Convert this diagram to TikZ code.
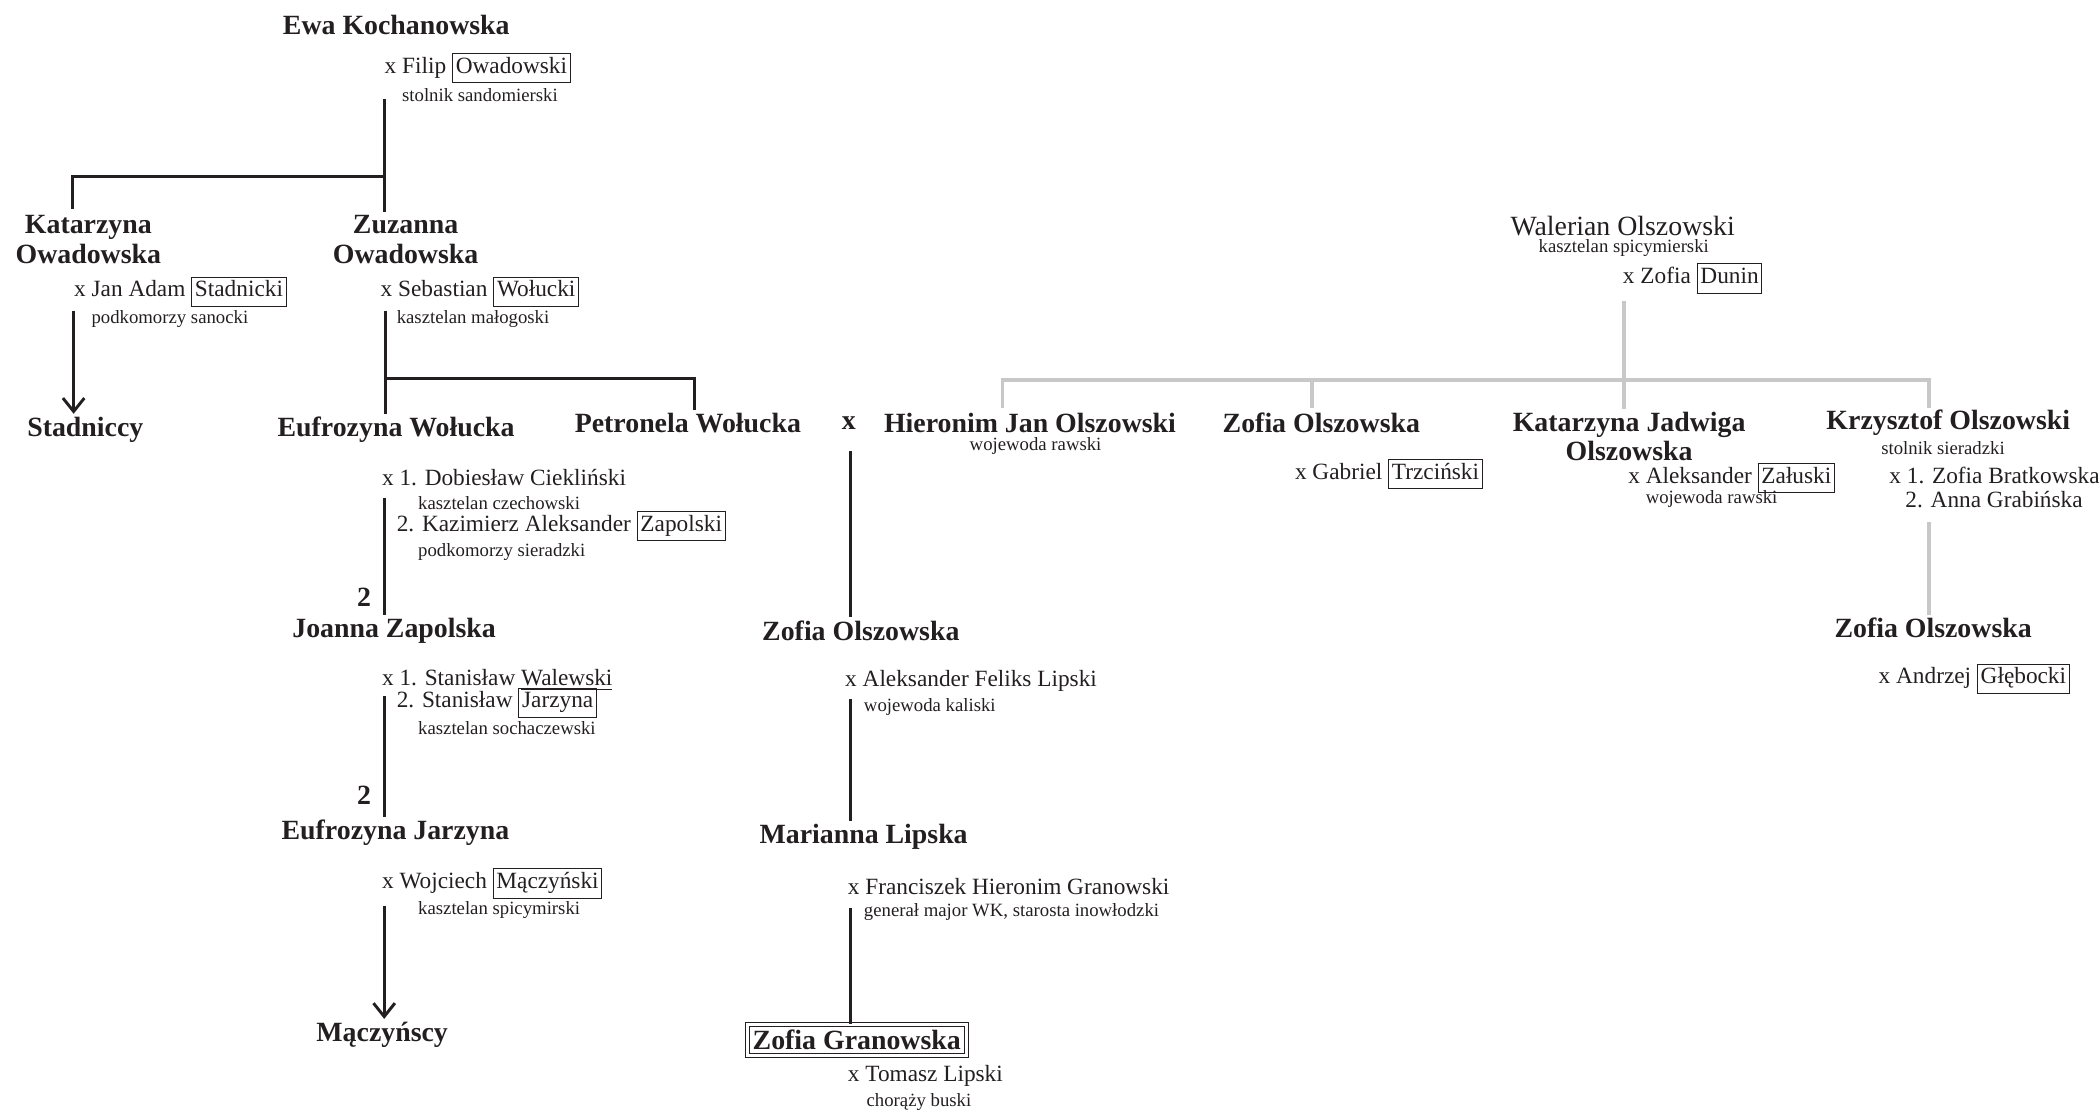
\documentclass[tikz,border=0pt]{standalone}
\usepackage{fontspec}
\setmainfont{Liberation Serif}
\usetikzlibrary{arrows.meta}

\definecolor{ink}{RGB}{35,31,32}
\definecolor{linegray}{RGB}{200,200,200}

% framed surname
\newcommand{\sur}[1]{{\fboxsep=1pt\fboxrule=0.4pt\fbox{#1\rule[-.27em]{0pt}{.98em}}}}

\begin{document}
\begin{tikzpicture}[x=0.5pt,y=-0.5pt,
	person/.style={anchor=west,inner sep=1pt,text=ink,font=\fontsize{10.4}{11}\selectfont\bfseries},
	spouse/.style={anchor=west,inner sep=1pt,text=ink,font=\fontsize{8.7}{9}\selectfont},
	office/.style={anchor=west,inner sep=1pt,text=ink,font=\fontsize{7}{8}\selectfont},
	tree/.style={draw=ink,line width=1.1pt},
	greytree/.style={draw=linegray,line width=1.3pt},
	descend/.style={tree,-{Straight Barb[length=5pt,width=8pt]}}]
	
	\useasboundingbox (0,0) rectangle (1568,831);
	
	% ======================================================
	% Kochanowska / Owadowski line (left)
	% ======================================================
	\node[person] (ewa) at (209,19) {Ewa Kochanowska};
	\node[spouse] (filip) at (285,51) {x Filip \sur{Owadowski}};
	\node[office] (filipT) at (298,71) {stolnik sandomierski};
	
	\node[person,anchor=center,align=center] (katarzyna) at (66,179) {Katarzyna\\Owadowska};
	\node[person,anchor=center,align=center] (zuzanna) at (303,179) {Zuzanna\\Owadowska};
	
	\coordinate (ewaTop) at (287,74);
	\coordinate (ewaFork) at (287,132);
	\coordinate (katTop) at (54,156);
	\draw[tree] (ewaTop) -- (ewaTop |- zuzanna.north);
	\draw[tree] (ewaFork) -| (katTop);
	
	% Stadniccy
	\node[spouse] (stadnicki) at (53,218) {x Jan Adam \sur{Stadnicki}};
	\node[office] (stadnickiT) at (66,238) {podkomorzy sanocki};
	\node[person] (stadniccy) at (18,321) {Stadniccy};
	\coordinate (stadTop) at (55,232);
	\draw[descend] (stadTop) -- (stadTop |- stadniccy.north);
	
	% Wołuccy
	\node[spouse] (wolucki) at (282,218) {x Sebastian \sur{Wołucki}};
	\node[office] (woluckiT) at (294,238) {kasztelan małogoski};
	\node[person] (eufrozynaW) at (205,321) {Eufrozyna Wołucka};
	\node[person] (petronela) at (427,316) {Petronela Wołucka};
	\coordinate (wolTop) at (288,232);
	\coordinate (wolFork) at (288,283);
	\coordinate (petTop) at (519,306);
	\draw[tree] (wolTop) -- (wolTop |- eufrozynaW.north);
	\draw[tree] (wolFork) -| (petTop);
	
	% Zapolscy
	\node[spouse] (ciek) at (283,357) {x 1. Dobiesław Ciekliński};
	\node[office] (ciekT) at (310,376) {kasztelan czechowski};
	\node[spouse] (zapolski) at (294,393) {2. Kazimierz Aleksander \sur{Zapolski}};
	\node[office] (zapolskiT) at (310,412) {podkomorzy sieradzki};
	\node[person] (joanna) at (216,471) {Joanna Zapolska};
	\node[person,anchor=center] (twoA) at (272,446) {2};
	\coordinate (zapTop) at (287,372);
	\draw[tree] (zapTop) -- (zapTop |- joanna.north);
	
	% Jarzynowie
	\node[spouse] (walewski) at (283,508) {x 1. Stanisław \underline{Walewski}};
	\node[spouse] (jarzyna) at (294,525) {2. Stanisław \sur{Jarzyna}};
	\node[office] (jarzynaT) at (310,544) {kasztelan sochaczewski};
	\node[person] (eufrozynaJ) at (208,622) {Eufrozyna Jarzyna};
	\node[person,anchor=center] (twoB) at (272,594) {2};
	\coordinate (jarTop) at (287,520);
	\draw[tree] (jarTop) -- (jarTop |- eufrozynaJ.north);
	
	% Mączyńscy
	\node[spouse] (maczynski) at (283,660) {x Wojciech \sur{Mączyński}};
	\node[office] (maczynskiT) at (310,680) {kasztelan spicymirski};
	\node[person] (maczynscy) at (234,773) {Mączyńscy};
	\coordinate (maczTop) at (287,677);
	\draw[descend] (maczTop) -- (maczTop |- maczynscy.north);
	
	% ======================================================
	% Olszowski / Lipski / Granowski line (middle)
	% ======================================================
	\node[person,anchor=center] (xmark) at (634,316) {x};
	\node[person] (hieronim) at (658,316) {Hieronim Jan Olszowski};
	\node[office] (hieronimT) at (722,333) {wojewoda rawski};
	
	\node[person] (zofiaO) at (567,471) {Zofia Olszowska};
	\node[spouse] (lipski) at (629,509) {x Aleksander Feliks Lipski};
	\node[office] (lipskiT) at (643,528) {wojewoda kaliski};
	\coordinate (olTop) at (635,337);
	\draw[tree] (olTop) -- (olTop |- zofiaO.north);
	
	\node[person] (marianna) at (565,625) {Marianna Lipska};
	\node[spouse] (granowski) at (631,662) {x Franciszek Hieronim Granowski};
	\node[office] (granowskiT) at (643,681) {generał major WK, starosta inowłodzki};
	\coordinate (lipTop) at (635,522);
	\draw[tree] (lipTop) -- (lipTop |- marianna.north);
	
	\node[person,anchor=center,draw=ink,line width=0.4pt,double,double distance=1.1pt,inner sep=2pt] (granowska) at (640,777) {Zofia Granowska};
	\node[spouse] (tomasz) at (631,804) {x Tomasz Lipski};
	\node[office] (tomaszT) at (645,823) {chorąży buski};
	\coordinate (granTop) at (635,678);
	\draw[tree] (granTop) -- (granTop |- granowska.north);
	
	% ======================================================
	% Walerian Olszowski and children (right, grey)
	% ======================================================
	\node[person,font=\fontsize{10.4}{11}\selectfont] (walerian) at (1126,169) {Walerian Olszowski};
	\node[office] (walerianT) at (1147,185) {kasztelan spicymierski};
	\node[spouse] (dunin) at (1210,208) {x Zofia \sur{Dunin}};
	
	\node[person] (zofiaT) at (911,316) {Zofia Olszowska};
	\node[spouse] (trzcinski) at (965,354) {x Gabriel \sur{Trzciński}};
	
	\node[person,anchor=center,align=center] (katJ) at (1217,326) {Katarzyna Jadwiga\\Olszowska};
	\node[spouse] (zaluski) at (1214,357) {x Aleksander \sur{Załuski}};
	\node[office] (zaluskiT) at (1227,373) {wojewoda rawski};
	
	\node[person] (krzysztof) at (1362,316) {Krzysztof Olszowski};
	\node[office] (krzysztofT) at (1403,335) {stolnik sieradzki};
	\node[spouse] (brat) at (1409,355) {x 1. Zofia Bratkowska};
	\node[spouse] (grab) at (1421,373) {2. Anna Grabińska};
	
	\node[person] (zofiaG) at (1368,469) {Zofia Olszowska};
	\node[spouse] (glebocki) at (1401,507) {x Andrzej \sur{Głębocki}};
	
	\coordinate (walTop) at (1213,225);
	\coordinate (walFork) at (1213,284);
	\coordinate (hieTop) at (749,305);
	\coordinate (zofTop) at (980,305);
	\coordinate (krzTop) at (1441,305);
	\draw[greytree] (walTop) -- (walTop |- katJ.north);
	\draw[greytree] (hieTop) |- (walFork) -| (krzTop);
	\draw[greytree] (zofTop) -- (zofTop |- walFork);
	\coordinate (krzLow) at (1441,390);
	\draw[greytree] (krzLow) -- (krzLow |- zofiaG.north);
	
\end{tikzpicture}
\end{document}
